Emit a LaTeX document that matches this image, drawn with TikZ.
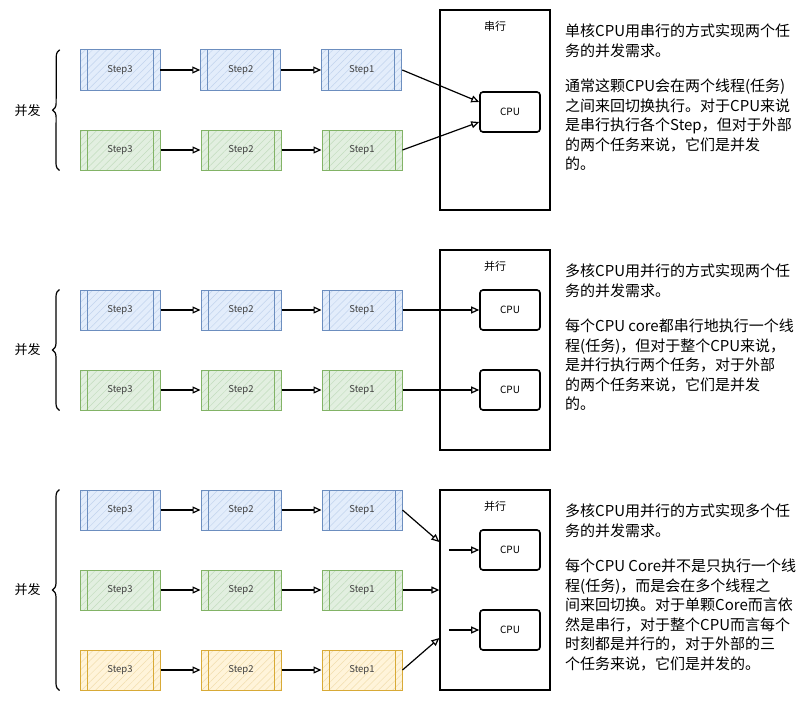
\documentclass[tikz,border=0pt]{standalone}
\usepackage{fontspec}
\newfontfamily\cjk{Noto Sans CJK SC}
\usetikzlibrary{arrows.meta,positioning,patterns.meta,decorations.pathreplacing}

\definecolor{blueline}{HTML}{6C8EBF}
\definecolor{bluefill}{HTML}{E3EDFB}
\definecolor{bluehatch}{HTML}{C2D4EE}
\definecolor{greenline}{HTML}{82B366}
\definecolor{greenfill}{HTML}{E2EFE0}
\definecolor{greenhatch}{HTML}{C3DDBE}
\definecolor{yellowline}{HTML}{D8AA36}
\definecolor{yellowfill}{HTML}{FFF4DA}
\definecolor{yellowhatch}{HTML}{F2DEAE}

\begin{document}
\begin{tikzpicture}[
  x=1pt,y=-1pt,
  >={Triangle[length=8pt,width=7pt,fill=white]},
  font=\cjk,
  stepbox/.style={draw=#1line, line width=1pt, minimum width=80pt, minimum height=40pt,
    inner sep=0pt, preaction={fill=#1fill},
    pattern={Lines[angle=45, distance=5pt, line width=0.5pt]}, pattern color=#1hatch,
    font=\cjk\fontsize{9.5}{11}\selectfont, text=black!75,
    path picture={
      \draw[#1line, line width=0.9pt]
        ([xshift=7pt]path picture bounding box.north west) -- ([xshift=7pt]path picture bounding box.south west)
        ([xshift=-7pt]path picture bounding box.north east) -- ([xshift=-7pt]path picture bounding box.south east);
    }},
  cpubox/.style={draw=black, line width=1.6pt, rounded corners=3pt, minimum width=60pt,
    minimum height=40pt, fill=white, font=\cjk\fontsize{10}{12}\selectfont},
  corebox/.style={draw=black, line width=1.3pt, minimum width=110pt, minimum height=200pt},
  boxlabel/.style={font=\cjk\fontsize{11}{13}\selectfont},
  link/.style={->, draw=black, line width=1.2pt},
  groupbrace/.style={decorate, decoration={brace, amplitude=7pt}, draw=black, line width=1.2pt},
  grouplabel/.style={font=\cjk\fontsize{13}{15}\selectfont},
  note/.style={anchor=north west, align=left, inner sep=0pt, font=\cjk\fontsize{15}{19.5}\selectfont}
]
\path[use as bounding box] (0,0) rectangle (811,701);

% Section 1: one core, serial
\node[corebox] (s1box) at (495,110) {};
\node[boxlabel, below=8pt of s1box.north] (s1lbl) {串行};
\node[cpubox] (s1cpu) at (510,112) {CPU};

\node[stepbox=blue] (s1b3) at (120,70) {Step3};
\node[stepbox=blue, right=40pt of s1b3] (s1b2) {Step2};
\node[stepbox=blue, right=40pt of s1b2] (s1b1) {Step1};
\node[stepbox=green] (s1g3) at (120,150) {Step3};
\node[stepbox=green, right=40pt of s1g3] (s1g2) {Step2};
\node[stepbox=green, right=40pt of s1g2] (s1g1) {Step1};

\draw[link] (s1b3) -- (s1b2);
\draw[link] (s1b2) -- (s1b1);
\draw[link] (s1g3) -- (s1g2);
\draw[link] (s1g2) -- (s1g1);
\draw[link] (s1b1.east) -- ([yshift=10pt]s1cpu.west);
\draw[link] (s1g1.east) -- ([yshift=-10pt]s1cpu.west);

\draw[groupbrace] ([xshift=-20pt]s1g3.south west) -- ([xshift=-20pt]s1b3.north west)
  node[grouplabel, midway, left=15pt] (s1con) {并发};

\node[note] (s1txt) at (565,24) {单核CPU用串行的方式实现两个任\\务的并发需求。};
\node[note] (s1more) at (565,79) {通常这颗CPU会在两个线程(任务)\\之间来回切换执行。对于CPU来说\\是串行执行各个Step，但对于外部\\的两个任务来说，它们是并发\\的。};

% Section 2: two cores, parallel
\node[corebox] (s2box) at (495,350) {};
\node[boxlabel, below=8pt of s2box.north] (s2lbl) {并行};
\node[cpubox] (s2cpuA) at (510,310) {CPU};
\node[cpubox] (s2cpuB) at (510,390) {CPU};

\node[stepbox=blue] (s2b3) at (120,310) {Step3};
\node[stepbox=blue, right=40pt of s2b3] (s2b2) {Step2};
\node[stepbox=blue, right=40pt of s2b2] (s2b1) {Step1};
\node[stepbox=green] (s2g3) at (120,390) {Step3};
\node[stepbox=green, right=40pt of s2g3] (s2g2) {Step2};
\node[stepbox=green, right=40pt of s2g2] (s2g1) {Step1};

\draw[link] (s2b3) -- (s2b2);
\draw[link] (s2b2) -- (s2b1);
\draw[link] (s2g3) -- (s2g2);
\draw[link] (s2g2) -- (s2g1);
\draw[link] (s2b1) -- (s2cpuA);
\draw[link] (s2g1) -- (s2cpuB);

\draw[groupbrace] ([xshift=-20pt]s2g3.south west) -- ([xshift=-20pt]s2b3.north west)
  node[grouplabel, midway, left=15pt] (s2con) {并发};

\node[note] (s2txt) at (565,264) {多核CPU用并行的方式实现两个任\\务的并发需求。};
\node[note] (s2more) at (565,319) {每个CPU core都串行地执行一个线\\程(任务)，但对于整个CPU来说，\\是并行执行两个任务，对于外部\\的两个任务来说，它们是并发\\的。};

% Section 3: two cores, three tasks
\node[corebox] (s3box) at (495,590) {};
\node[boxlabel, below=8pt of s3box.north] (s3lbl) {并行};
\node[cpubox] (s3cpuA) at (510,550) {CPU};
\node[cpubox] (s3cpuB) at (510,630) {CPU};

\node[stepbox=blue] (s3b3) at (120,510) {Step3};
\node[stepbox=blue, right=40pt of s3b3] (s3b2) {Step2};
\node[stepbox=blue, right=40pt of s3b2] (s3b1) {Step1};
\node[stepbox=green] (s3g3) at (120,590) {Step3};
\node[stepbox=green, right=40pt of s3g3] (s3g2) {Step2};
\node[stepbox=green, right=40pt of s3g2] (s3g1) {Step1};
\node[stepbox=yellow] (s3y3) at (120,670) {Step3};
\node[stepbox=yellow, right=40pt of s3y3] (s3y2) {Step2};
\node[stepbox=yellow, right=40pt of s3y2] (s3y1) {Step1};

\draw[link] (s3b3) -- (s3b2);
\draw[link] (s3b2) -- (s3b1);
\draw[link] (s3g3) -- (s3g2);
\draw[link] (s3g2) -- (s3g1);
\draw[link] (s3y3) -- (s3y2);
\draw[link] (s3y2) -- (s3y1);
\draw[link] (s3b1.east) -- ([yshift=48pt]s3box.west);
\draw[link] (s3g1.east) -- (s3box.west);
\draw[link] (s3y1.east) -- ([yshift=-48pt]s3box.west);

\coordinate[left=30pt of s3cpuA.west] (s3inA);
\coordinate[left=30pt of s3cpuB.west] (s3inB);
\draw[link] (s3inA) -- (s3cpuA.west);
\draw[link] (s3inB) -- (s3cpuB.west);

\draw[groupbrace] ([xshift=-20pt]s3y3.south west) -- ([xshift=-20pt]s3b3.north west)
  node[grouplabel, midway, left=15pt] (s3con) {并发};

\node[note] (s3txt) at (565,504) {多核CPU用并行的方式实现多个任\\务的并发需求。};
\node[note] (s3more) at (565,559) {每个CPU Core并不是只执行一个线\\程(任务)，而是会在多个线程之\\间来回切换。对于单颗Core而言依\\然是串行，对于整个CPU而言每个\\时刻都是并行的，对于外部的三\\个任务来说，它们是并发的。};

\end{tikzpicture}
\end{document}
